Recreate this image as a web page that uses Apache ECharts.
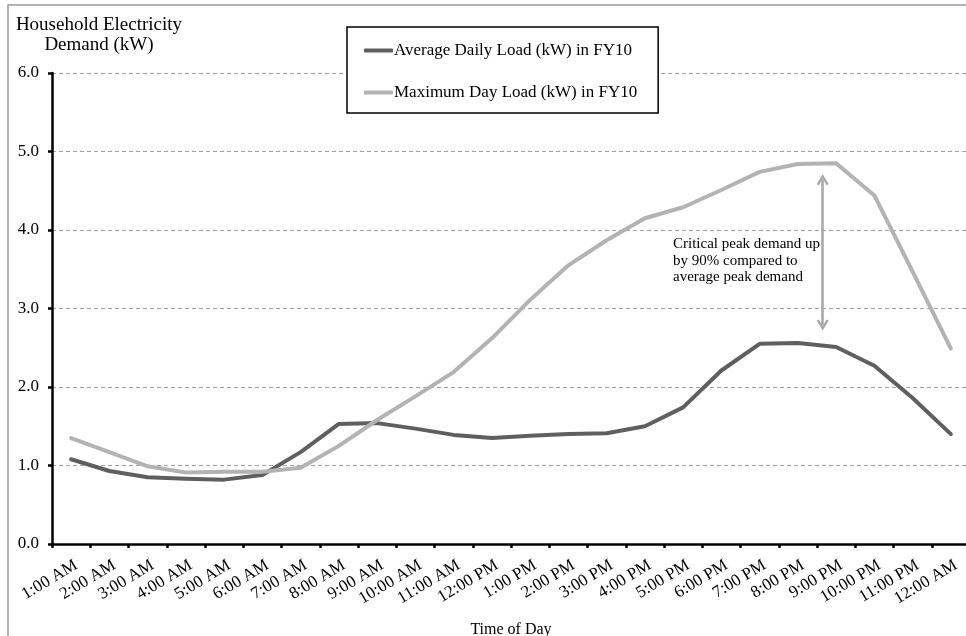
<!DOCTYPE html>
<html>
<head>
<meta charset="utf-8">
<script src="https://cdn.jsdelivr.net/npm/echarts@6/dist/echarts.min.js"></script>
<style>
html,body{margin:0;padding:0;background:#fff;}
#c{width:966px;height:636px;}
</style>
</head>
<body>
<div id="c"></div>
<script>
var categories = ['1:00 AM','2:00 AM','3:00 AM','4:00 AM','5:00 AM','6:00 AM','7:00 AM','8:00 AM','9:00 AM','10:00 AM','11:00 AM','12:00 PM','1:00 PM','2:00 PM','3:00 PM','4:00 PM','5:00 PM','6:00 PM','7:00 PM','8:00 PM','9:00 PM','10:00 PM','11:00 PM','12:00 AM'];
var averageLoad = [1.08,0.93,0.85,0.83,0.82,0.88,1.17,1.53,1.54,1.47,1.39,1.35,1.38,1.40,1.41,1.50,1.74,2.21,2.55,2.56,2.51,2.27,1.86,1.40];
var maximumLoad = [1.35,1.17,0.99,0.91,0.92,0.92,0.97,1.25,1.58,1.88,2.19,2.62,3.11,3.55,3.87,4.15,4.29,4.51,4.74,4.84,4.85,4.44,3.47,2.49];
var seriesNames = ['Average Daily Load (kW) in FY10','Maximum Day Load (kW) in FY10'];
var arrowPos = 19.65;
var arrowRange = [4.64, 2.79];
var annotationText = 'Critical peak demand up\nby 90% compared to\naverage peak demand';
var yTitle = 'Household Electricity\nDemand (kW)';
var xTitle = 'Time of Day';

var FONT = '"Liberation Serif", "Times New Roman", serif';
var chart = echarts.init(document.getElementById('c'), null, {renderer:'canvas'});
var chevron = 'path://M0,9 L5,0 L10,9 L8.3,10 L5,4 L1.7,10 Z';

chart.setOption({
  animation:false,
  backgroundColor:'#fff',
  textStyle:{fontFamily:FONT},
  grid:{left:52, top:73, right:-4, bottom:92, containLabel:false, outerBoundsMode:'none'},
  legend:{
    left:347, top:27, orient:'vertical',
    padding:[15,21,12,17], itemGap:25,
    itemWidth:29, itemHeight:4, icon:'roundRect',
    borderColor:'#000', borderWidth:1.5,
    backgroundColor:'#fff',
    textStyle:{fontFamily:FONT, fontSize:17, color:'#000', padding:[0,0,0,-4], lineHeight:17},
    data:seriesNames
  },
  xAxis:[{
    type:'category', data:categories, boundaryGap:true,
    name:xTitle, nameLocation:'middle', nameGap:78,
    nameTextStyle:{fontFamily:FONT, fontSize:16, color:'#000'},
    axisLine:{lineStyle:{color:'#000', width:2.5}},
    axisTick:{show:true, length:4, lineStyle:{color:'#000', width:2.5}},
    axisLabel:{rotate:31, fontFamily:FONT, fontSize:17, color:'#000', margin:23, interval:0, padding:[0,-6,0,0]},
    splitLine:{show:false}
  },{
    type:'value', min:-0.5, max:categories.length-0.5, show:false,
    splitLine:{show:false}
  }],
  yAxis:{
    type:'value', min:0, max:6, interval:1,
    axisLine:{show:true, onZero:false, lineStyle:{color:'#000', width:2.5}},
    axisTick:{show:true, length:4, lineStyle:{color:'#000', width:2.5}},
    axisLabel:{fontFamily:FONT, fontSize:17, color:'#000', margin:13, formatter:function(v){return v.toFixed(1);}},
    splitLine:{show:true, lineStyle:{color:'#a0a0a0', width:1, type:[4,3]}}
  },
  series:[
    {name:seriesNames[0], type:'line', data:averageLoad, symbol:'none', smooth:false,
     lineStyle:{color:'#5f5f5f', width:4, cap:'round', join:'round'}, itemStyle:{color:'#5f5f5f'}, z:2},
    {name:seriesNames[1], type:'line', data:maximumLoad, symbol:'none', smooth:false,
     lineStyle:{color:'#b3b3b3', width:4, cap:'round', join:'round'}, itemStyle:{color:'#b3b3b3'}, z:3},
    {name:'arrow', type:'line', xAxisIndex:1, data:[], symbol:'none', silent:true,
     markLine:{
       silent:true, symbol:[chevron, chevron], symbolSize:[12,11], symbolOffset:0,
       label:{show:false},
       lineStyle:{color:'#a6a6a6', width:2.5, type:'solid'},
       itemStyle:{color:'#a6a6a6'},
       emphasis:{disabled:true},
       data:[[{coord:[arrowPos, arrowRange[0]]},{coord:[arrowPos, arrowRange[1]]}]]
     }}
  ],
  graphic:[
    {type:'rect', shape:{x:8,y:5,width:975,height:650}, style:{fill:'none', stroke:'#9a9a9a', lineWidth:1.5}, z:-1},
    {type:'text', x:99, y:15, style:{text:yTitle, font:'19px '+FONT, fill:'#000', align:'center', verticalAlign:'top', lineHeight:20}},
    {type:'text', x:673, y:236, style:{text:annotationText, font:'15px '+FONT, fill:'#000', lineHeight:16.5, verticalAlign:'top'}}
  ]
});
</script>
</body>
</html>
